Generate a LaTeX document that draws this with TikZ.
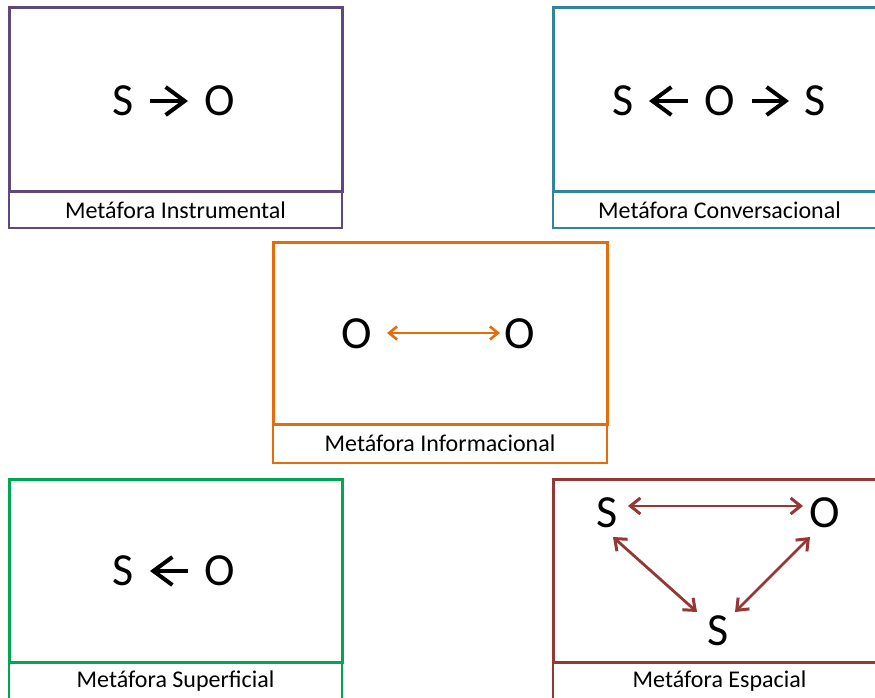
\documentclass[tikz,border=0pt]{standalone}
\usepackage{fontspec}
\setmainfont{Carlito}
\usetikzlibrary{arrows.meta,calc}

\definecolor{cpurple}{HTML}{5F497A}
\definecolor{cteal}{HTML}{31849B}
\definecolor{corange}{HTML}{E46C0A}
\definecolor{cgreen}{HTML}{00A651}
\definecolor{cred}{HTML}{953735}

\tikzset{
  panel/.style={draw=#1, line width=3pt},
  capbox/.style={draw=#1, line width=1.2pt},
  captext/.style={font=\fontsize{24}{24}\selectfont, inner sep=0pt},
  letter/.style={font=\fontsize{46}{46}\selectfont, inner sep=0pt},
  bigarr/.style={line width=4pt, -{Straight Barb[length=19pt,width=28pt,line width=4pt]}},
  infoarr/.style={corange, line width=2.4pt, {Straight Barb[length=8pt,width=13pt,line width=2.6pt]}-{Straight Barb[length=8pt,width=13pt,line width=2.6pt]}},
  spacearr/.style={cred, line width=2.8pt, {Straight Barb[length=10pt,width=16pt,line width=3pt]}-{Straight Barb[length=10pt,width=16pt,line width=3pt]}}
}

\begin{document}
\begin{tikzpicture}[x=1pt,y=-1pt]
  \useasboundingbox (0,0) rectangle (875,698);
  \fill[white] (0,0) rectangle (875,698);
  \clip (0,0) rectangle (875,698);

  % Instrumental
  \draw[capbox=cpurple] (9,191) rectangle (342,228);
  \draw[panel=cpurple] (9,8) rectangle (342,191);
  \node[captext] (capA) at (175.5,210) {Metáfora Instrumental};
  \node[letter] (a1) at (123,101) {S};
  \node[letter] (a2) at (220,101) {O};
  \draw[bigarr] ($(a1)+(27,0)$) -- ($(a2)+(-32,0)$);

  % Conversacional
  \draw[capbox=cteal] (553,191) rectangle (886,228);
  \draw[panel=cteal] (553,8) rectangle (886,191);
  \node[captext] (capB) at (719.5,210) {Metáfora Conversacional};
  \node[letter] (b1) at (623,101) {S};
  \node[letter] (b2) at (720,101) {O};
  \node[letter] (b3) at (815,101) {S};
  \draw[bigarr] ($(b2)+(-32,0)$) -- ($(b1)+(26,0)$);
  \draw[bigarr] ($(b2)+(32,0)$) -- ($(b3)+(-26,0)$);

  % Informacional
  \draw[capbox=corange] (273,424) rectangle (607,463);
  \draw[panel=corange] (273,242) rectangle (607,424);
  \node[captext] (capC) at (440,443.5) {Metáfora Informacional};
  \node[letter] (c1) at (357,334) {O};
  \node[letter] (c2) at (520,334) {O};
  \draw[infoarr] ($(c1)+(30,-1)$) -- ($(c2)+(-20,-1)$);

  % Superficial
  \draw[capbox=cgreen] (9,662) rectangle (342,702);
  \draw[panel=cgreen] (9,479) rectangle (342,662);
  \node[captext] (capD) at (175.5,681) {Metáfora Superficial};
  \node[letter] (d1) at (123,571) {S};
  \node[letter] (d2) at (220,571) {O};
  \draw[bigarr] ($(d2)+(-32,0)$) -- ($(d1)+(27,0)$);

  % Espacial
  \draw[capbox=cred] (553,662) rectangle (886,702);
  \draw[panel=cred] (553,479) rectangle (886,662);
  \node[captext] (capE) at (719.5,681) {Metáfora Espacial};
  \node[letter] (e1) at (607,513) {S};
  \node[letter] (e2) at (825,513) {O};
  \node[letter] (e3) at (718,631) {S};
  \draw[spacearr] ($(e1)+(21,-7)$) -- ($(e2)+(-22,-7)$);
  \draw[spacearr] ($(e1)+(6,24)$) -- ($(e3)+(-21,-19)$);
  \draw[spacearr] ($(e2)+(-15,24)$) -- ($(e3)+(17,-19)$);
\end{tikzpicture}
\end{document}
